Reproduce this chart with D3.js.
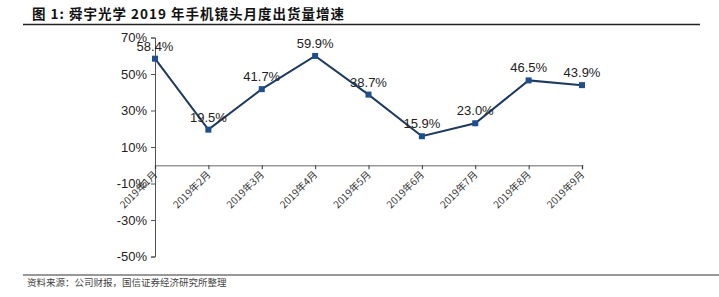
<!DOCTYPE html>
<html><head><meta charset="utf-8">
<script src="https://cdn.jsdelivr.net/npm/d3@7"></script>
<style>body{margin:0;background:#fff}svg{display:block}</style>
</head><body>
<script>
const categories = ["2019年1月","2019年2月","2019年3月","2019年4月","2019年5月","2019年6月","2019年7月","2019年8月","2019年9月"];
const values = [58.4, 19.5, 41.7, 59.9, 38.7, 15.9, 23.0, 46.5, 43.9];
const yTicks = [70, 50, 30, 10, -10, -30, -50];
const title = "图 1: 舜宇光学 2019 年手机镜头月度出货量增速";
const source = "资料来源：公司财报，国信证券经济研究所整理";

const W = 719, H = 297;
const svg = d3.select("body").append("svg").attr("width", W).attr("height", H);

const cjk = "'Noto Sans CJK SC', sans-serif";
const lat = "'Liberation Sans', Arial, sans-serif";

// title & rules
svg.append("text").attr("x", 32).attr("y", 19).attr("font-family", cjk).attr("font-weight", "bold")
  .attr("font-size", 13.5).attr("letter-spacing", 1).attr("fill", "#111").text(title);
svg.append("line").attr("x1", 23).attr("x2", 700).attr("y1", 24.5).attr("y2", 24.5).attr("stroke", "#222").attr("stroke-width", 1.5);
svg.append("line").attr("x1", 23).attr("x2", 719).attr("y1", 275).attr("y2", 275).attr("stroke", "#333").attr("stroke-width", 1);
svg.append("text").attr("x", 27).attr("y", 286).attr("font-family", cjk).attr("font-size", 9.5)
  .attr("fill", "#444").text(source);

const x = d3.scalePoint().domain(categories).range([155, 582]).padding(0);
const y = d3.scaleLinear().domain([-50, 70]).range([256.5, 37.5]);

// y axis
const yAxis = svg.append("g").attr("transform", "translate(155,0)")
  .call(d3.axisLeft(y).tickValues(yTicks).tickSize(4).tickPadding(4).tickFormat(d => d + "%"));
yAxis.select(".domain").attr("stroke", "#555");
yAxis.selectAll(".tick line").attr("stroke", "#555");
yAxis.selectAll("text").attr("font-family", lat).attr("font-size", 13).attr("fill", "#222");

// x axis at zero
const xAxis = svg.append("g").attr("transform", `translate(0,${y(0)})`)
  .call(d3.axisBottom(x).tickSize(4).tickFormat(""));
xAxis.select(".domain").attr("stroke", "#999").attr("stroke-width", 1.5);
xAxis.selectAll(".tick line").attr("stroke", "#333");

// rotated x labels
svg.append("g").selectAll("text").data(categories).join("text")
  .attr("transform", d => `translate(${x(d) + 3},${y(0) + 10}) rotate(-45)`)
  .attr("text-anchor", "end").attr("font-family", cjk).attr("font-size", 10).attr("fill", "#333")
  .text(d => d);

// line
const line = d3.line().x((d, i) => x(categories[i])).y(d => y(d));
svg.append("path").datum(values).attr("d", line).attr("fill", "none")
  .attr("stroke", "#1f3a5f").attr("stroke-width", 2);

svg.append("g").selectAll("rect").data(values).join("rect")
  .attr("x", (d, i) => x(categories[i]) - 3).attr("y", d => y(d) - 3)
  .attr("width", 6).attr("height", 6).attr("fill", "#1f4e8c");

svg.append("g").selectAll("text").data(values).join("text")
  .attr("x", (d, i) => x(categories[i]))
  .attr("y", d => y(d) - 8)
  .attr("text-anchor", "middle").attr("font-family", lat).attr("font-size", 13).attr("fill", "#222")
  .text(d => d.toFixed(1) + "%");
</script>
</body></html>
